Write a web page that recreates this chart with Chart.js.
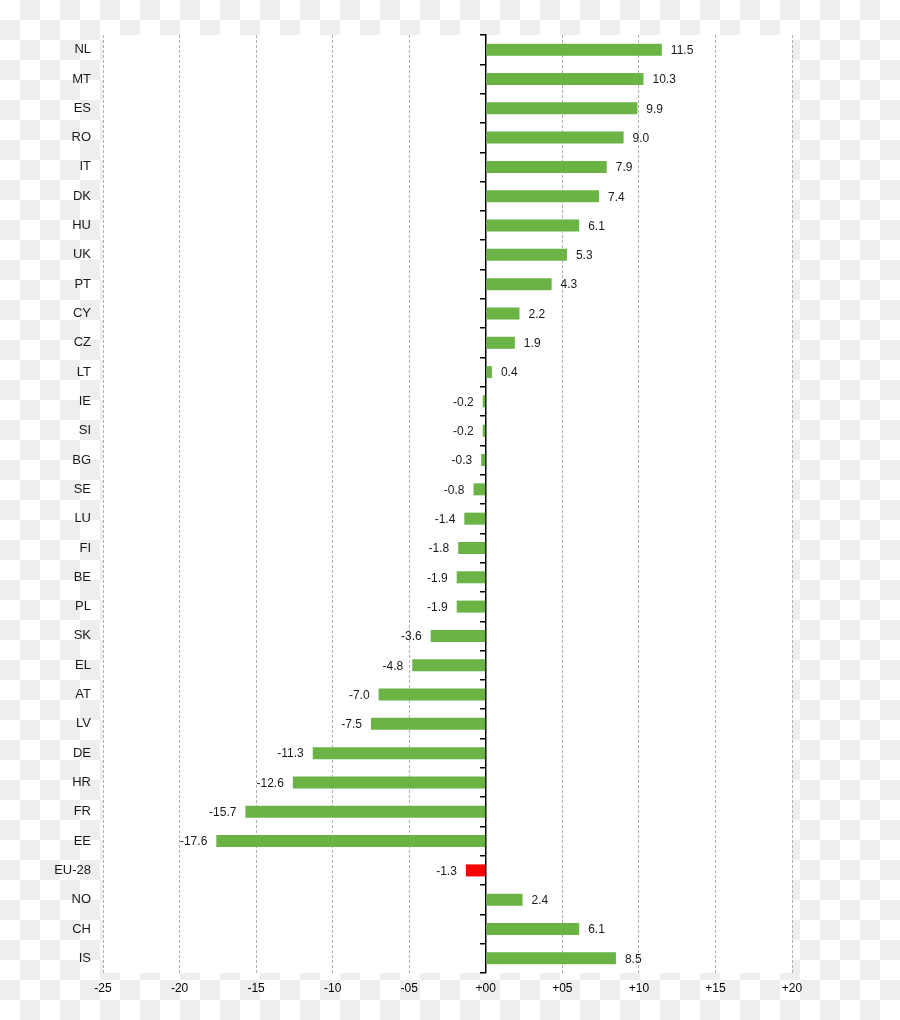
<!DOCTYPE html>
<html>
<head>
<meta charset="utf-8">
<script src="https://cdn.jsdelivr.net/npm/chart.js@4/dist/chart.umd.min.js"></script>
<style>
  html, body { margin: 0; padding: 0; }
  body {
    width: 900px; height: 1020px;
    background: repeating-conic-gradient(#eeeeee 0 25%, #ffffff 0 50%) 0 0 / 40px 40px;
  }
  #wrap { position: relative; width: 900px; height: 1020px; }
</style>
</head>
<body>
<div id="wrap"><canvas id="chart"></canvas></div>
<script>
// 国家/地区 与 变化值
const countries = ['NL', 'MT', 'ES', 'RO', 'IT', 'DK', 'HU', 'UK', 'PT', 'CY', 'CZ', 'LT',
  'IE', 'SI', 'BG', 'SE', 'LU', 'FI', 'BE', 'PL', 'SK', 'EL', 'AT', 'LV', 'DE', 'HR',
  'FR', 'EE', 'EU-28', 'NO', 'CH', 'IS'];
const changes = [11.5, 10.3, 9.9, 9.0, 7.9, 7.4, 6.1, 5.3, 4.3, 2.2, 1.9, 0.4,
  -0.2, -0.2, -0.3, -0.8, -1.4, -1.8, -1.9, -1.9, -3.6, -4.8, -7.0, -7.5, -11.3, -12.6,
  -15.7, -17.6, -1.3, 2.4, 6.1, 8.5];
const xTickLabels = ['-25', '-20', '-15', '-10', '-05', '+00', '+05', '+10', '+15', '+20'];

const GREEN = '#6ab344';
const RED = '#ff0000';

// 绘图区白底
const plotBg = {
  id: 'plotBg',
  beforeDraw(chart) {
    const { ctx, chartArea: a } = chart;
    ctx.save();
    ctx.fillStyle = '#ffffff';
    ctx.fillRect(a.left, a.top, a.right - a.left, a.bottom - a.top);
    ctx.restore();
  }
};

// 柱端数值标签
const valueLabels = {
  id: 'valueLabels',
  afterDatasetsDraw(chart) {
    const { ctx } = chart;
    const meta = chart.getDatasetMeta(0);
    ctx.save();
    ctx.font = '12px "Liberation Sans", Arial, sans-serif';
    ctx.fillStyle = '#1a1a1a';
    ctx.textBaseline = 'middle';
    meta.data.forEach((bar, i) => {
      const v = changes[i];
      const txt = v.toFixed(1);
      if (v >= 0) { ctx.textAlign = 'left'; ctx.fillText(txt, bar.x + 9, bar.y + 1); }
      else { ctx.textAlign = 'right'; ctx.fillText(txt, bar.x - 9, bar.y + 1); }
    });
    ctx.restore();
  }
};

new Chart(document.getElementById('chart'), {
  type: 'bar',
  data: {
    labels: countries,
    datasets: [{
      data: changes,
      backgroundColor: ctx => countries[ctx.dataIndex] === 'EU-28' ? RED : GREEN,
      borderWidth: 0,
      barPercentage: 0.41,
      categoryPercentage: 1,
      yAxisID: 'y'
    }]
  },
  options: {
    indexAxis: 'y',
    responsive: true,
    maintainAspectRatio: false,
    animation: false,
    layout: { padding: { top: 35, right: 108, left: 0, bottom: 0 } },
    plugins: { legend: { display: false }, tooltip: { enabled: false } },
    scales: {
      x: {
        type: 'linear',
        min: -25, max: 20,
        afterFit: s => { s.height = 47; },
        ticks: {
          stepSize: 5,
          padding: 8,
          color: '#000',
          font: { family: '"Liberation Sans", Arial, sans-serif', size: 12 },
          callback: (v, i) => xTickLabels[i]
        },
        grid: {
          drawTicks: false,
          color: ctx => ctx.tick && ctx.tick.value === 0 ? 'rgba(0,0,0,0)' : '#b0b0b0',
          lineWidth: 1
        },
        border: { display: false, dash: [3, 2] }
      },
      y: {
        type: 'category',
        position: 'left',
        afterFit: s => { s.width = 103; },
        grid: { display: false, drawTicks: false },
        border: { display: false },
        ticks: {
          padding: 12,
          color: '#1a1a1a',
          font: { family: '"Liberation Sans", Arial, sans-serif', size: 13 }
        }
      },
      y2: {
        type: 'category',
        axis: 'y',
        position: { x: 0 },
        offset: true,
        grid: { offset: true, drawOnChartArea: false, drawTicks: true, tickLength: 5, color: '#000', lineWidth: 1.5 },
        border: { display: true, color: '#000', width: 1.5 },
        ticks: { display: false }
      }
    }
  },
  plugins: [plotBg, valueLabels]
});
</script>
</body>
</html>
